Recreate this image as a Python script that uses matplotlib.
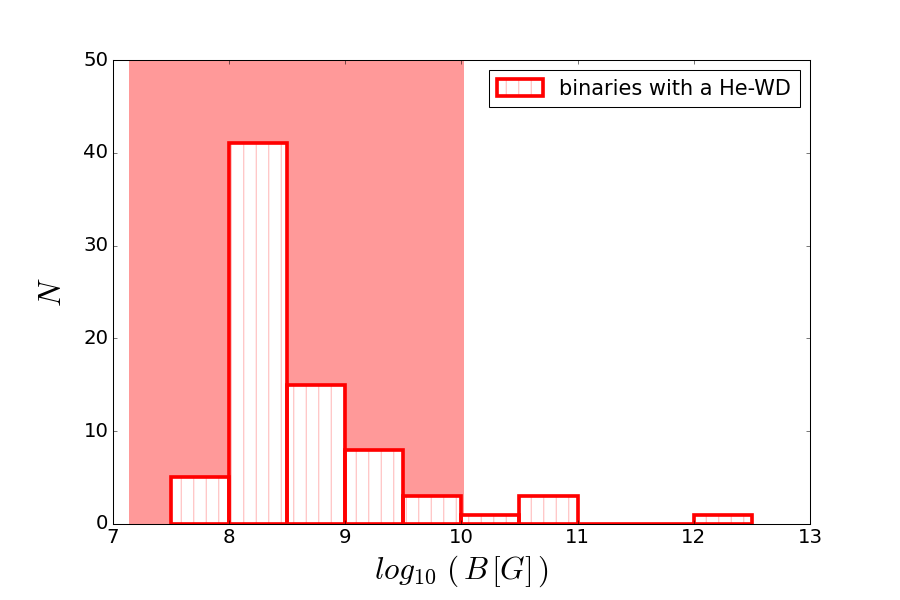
import matplotlib
matplotlib.use("Agg")
import matplotlib.pyplot as plt
import numpy as np
from matplotlib.patches import Patch
from matplotlib.legend_handler import HandlerTuple

plt.style.use('classic')

# histogramm: log10(B) in Bins der Breite 0.5
bin_edges = [7.5, 8.0, 8.5, 9.0, 9.5, 10.0, 10.5, 11.0, 11.5, 12.0, 12.5]
counts = [5, 41, 15, 8, 3, 1, 3, 0, 0, 1]
# schattierter Bereich
span_lo, span_hi = 7.14, 10.02

fig = plt.figure(figsize=(12, 8), dpi=75)
ax = fig.add_subplot(111)
fig.subplots_adjust(left=0.125, right=0.9, bottom=0.127, top=0.9)

ax.axvspan(span_lo, span_hi, color='red', alpha=0.4, lw=0)

left = np.array(bin_edges[:-1])
width = np.diff(bin_edges)
# Schraffur (rosa) und Rand (rot) getrennt zeichnen
h1 = ax.bar(left, counts, width=width, align='edge', facecolor='white',
            edgecolor='#ffb8b8', hatch='|', lw=0)
h2 = ax.bar(left, counts, width=width, align='edge', fill=False,
            edgecolor='red', lw=3.5)

ax.set_xlim(7, 13)
ax.set_ylim(0, 50)
ax.tick_params(labelsize=19)
ax.set_xlabel(r'$log_{10}\ (\,B\,[G]\,)$', fontsize=30, labelpad=6)
ax.set_ylabel(r'$N$', fontsize=30, labelpad=16)

hp = Patch(facecolor='white', edgecolor='#ffb8b8', hatch='|', lw=0)
ep = Patch(fill=False, edgecolor='red', lw=3.5)
ax.legend([(hp, ep)], ['binaries with a He-WD'], loc='upper right',
          fontsize=20, handlelength=2.2, handleheight=0.9,
          handler_map={tuple: HandlerTuple(ndivide=1)})

fig.savefig('out.png', dpi=75)
